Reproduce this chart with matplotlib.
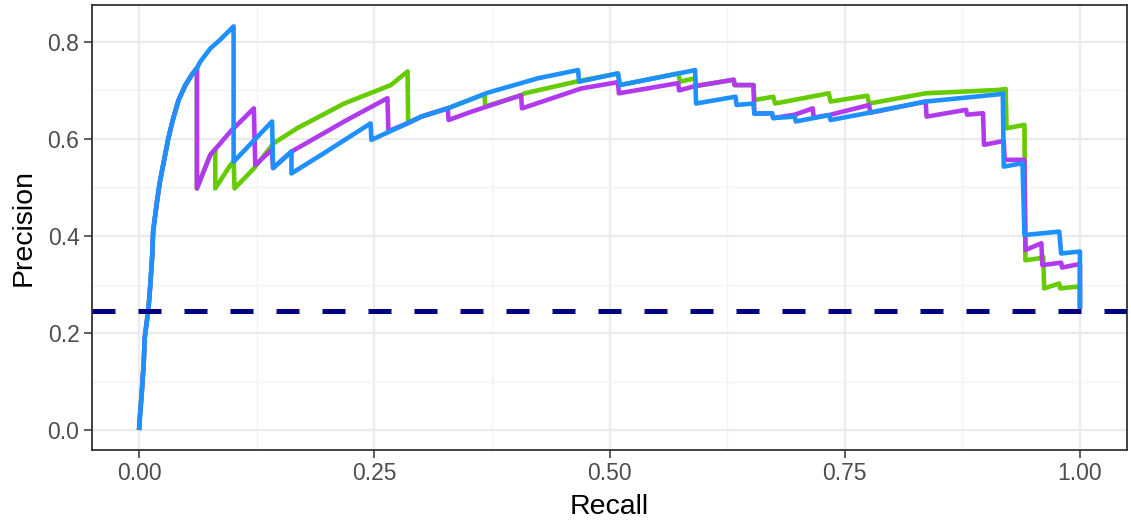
import matplotlib
matplotlib.use("Agg")
import matplotlib.pyplot as plt
from matplotlib.ticker import MultipleLocator

# shared steep climb at the start of all three curves
rise_recall = [0.0, 0.001, 0.003, 0.005, 0.006, 0.010, 0.012, 0.014, 0.015,
               0.019, 0.022, 0.026, 0.031, 0.036, 0.042, 0.049, 0.056, 0.0615]
rise_precision = [0.0, 0.03, 0.08, 0.14, 0.19, 0.25, 0.30, 0.36, 0.41,
                  0.47, 0.51, 0.55, 0.60, 0.64, 0.68, 0.71, 0.732, 0.746]

blue_recall = rise_recall + [
    0.065, 0.076, 0.086, 0.1005, 0.1005, 0.1414, 0.1425, 0.162, 0.162, 0.196,
    0.246, 0.247, 0.285, 0.300, 0.328, 0.371, 0.424, 0.4666, 0.4676, 0.509,
    0.511, 0.584, 0.591, 0.592, 0.634, 0.635, 0.653, 0.654, 0.6727, 0.674,
    0.697, 0.698, 0.733, 0.735, 0.776, 0.836, 0.914, 0.918, 0.919, 0.939,
    0.941, 0.978, 0.980, 1.0, 1.0]
blue_precision = rise_precision + [
    0.759, 0.787, 0.804, 0.832, 0.553, 0.636, 0.540, 0.574, 0.529, 0.570,
    0.632, 0.598, 0.632, 0.646, 0.663, 0.6955, 0.725, 0.742, 0.718, 0.735,
    0.711, 0.739, 0.742, 0.673, 0.687, 0.670, 0.673, 0.652, 0.653, 0.643,
    0.646, 0.636, 0.649, 0.639, 0.654, 0.677, 0.692, 0.694, 0.543, 0.550,
    0.402, 0.409, 0.364, 0.368, 0.251]

purple_recall = rise_recall + [
    0.0615, 0.0757, 0.097, 0.122, 0.1235, 0.141, 0.1425, 0.162, 0.1965, 0.218,
    0.264, 0.265, 0.285, 0.300, 0.328, 0.329, 0.353, 0.406, 0.407, 0.470,
    0.509, 0.510, 0.573, 0.574, 0.591, 0.632, 0.633, 0.653, 0.654, 0.6727,
    0.674, 0.697, 0.716, 0.717, 0.733, 0.776, 0.777, 0.836, 0.837, 0.879,
    0.880, 0.897, 0.898, 0.914, 0.919, 0.920, 0.941, 0.942, 0.959, 0.960,
    0.980, 0.981, 0.999, 1.0, 1.0]
purple_precision = rise_precision + [
    0.498, 0.567, 0.615, 0.663, 0.546, 0.578, 0.540, 0.574, 0.612, 0.636,
    0.684, 0.616, 0.632, 0.646, 0.663, 0.639, 0.656, 0.690, 0.663, 0.704,
    0.717, 0.694, 0.715, 0.700, 0.709, 0.722, 0.711, 0.711, 0.652, 0.653,
    0.643, 0.650, 0.663, 0.644, 0.649, 0.670, 0.654, 0.677, 0.646, 0.660,
    0.650, 0.653, 0.588, 0.594, 0.596, 0.557, 0.557, 0.371, 0.385, 0.340,
    0.345, 0.335, 0.342, 0.342, 0.250]

green_recall = rise_recall + [
    0.0615, 0.0757, 0.081, 0.081, 0.097, 0.1006, 0.1015, 0.122, 0.143, 0.168,
    0.218, 0.2676, 0.2854, 0.286, 0.300, 0.328, 0.367, 0.368, 0.406, 0.41,
    0.4666, 0.509, 0.511, 0.573, 0.575, 0.591, 0.592, 0.632, 0.633, 0.653,
    0.654, 0.674, 0.676, 0.733, 0.735, 0.774, 0.776, 0.836, 0.914, 0.921,
    0.922, 0.941, 0.942, 0.957, 0.961, 0.962, 0.978, 0.979, 0.999, 1.0, 1.0]
green_precision = rise_precision + [
    0.498, 0.567, 0.579, 0.498, 0.546, 0.553, 0.498, 0.539, 0.591, 0.622,
    0.673, 0.711, 0.739, 0.633, 0.646, 0.663, 0.692, 0.667, 0.690, 0.694,
    0.719, 0.735, 0.711, 0.735, 0.718, 0.725, 0.709, 0.722, 0.711, 0.711,
    0.680, 0.687, 0.673, 0.694, 0.677, 0.689, 0.673, 0.694, 0.701, 0.703,
    0.622, 0.629, 0.350, 0.354, 0.357, 0.292, 0.302, 0.292, 0.296, 0.296, 0.250]

baseline = 0.245
x_ticks = [0.0, 0.25, 0.5, 0.75, 1.0]
x_labels = ["0.00", "0.25", "0.50", "0.75", "1.00"]
y_ticks = [0.0, 0.2, 0.4, 0.6, 0.8]
y_labels = ["0.0", "0.2", "0.4", "0.6", "0.8"]

plt.rcParams["font.family"] = ["Liberation Sans", "DejaVu Sans"]

W, H = 1131, 527
fig = plt.figure(figsize=(W / 100, H / 100), dpi=100)
ax = fig.add_axes([92 / W, 77 / H, (1127 - 92) / W, (450 - 5) / H])

ax.set_xlim(-0.05, 1.05)
ax.set_ylim(-0.041, 0.876)

# ggplot theme_bw look
ax.xaxis.set_minor_locator(MultipleLocator(0.125))
ax.yaxis.set_minor_locator(MultipleLocator(0.1))
ax.grid(which="major", color="#EBEBEB", lw=1.6, zorder=0)
ax.grid(which="minor", color="#F3F3F3", lw=1.0, zorder=0)
ax.set_axisbelow(True)
ax.tick_params(which="minor", length=0)
ax.tick_params(which="major", length=6, width=1.1, color="#333333",
               labelcolor="#4D4D4D", labelsize=16.5, pad=3)
for s in ax.spines.values():
    s.set_color("#333333")
    s.set_linewidth(1.3)

ax.set_xticks(x_ticks, x_labels)
ax.set_yticks(y_ticks, y_labels)

line_kw = dict(lw=3.3, solid_joinstyle="round", solid_capstyle="butt")
ax.plot(green_recall, green_precision, color="#66CC00", zorder=3, **line_kw)
ax.plot(purple_recall, purple_precision, color="#B23AEE", zorder=4, **line_kw)
ax.plot(blue_recall, blue_precision, color="#1E90FF", zorder=5, **line_kw)

ax.axhline(baseline, color="#000080", lw=3.6, dashes=(4.6, 4.6), zorder=6)

ax.set_xlabel("Recall", fontsize=20.5, color="black", labelpad=6)
ax.set_ylabel("Precision", fontsize=20.5, color="black", labelpad=8)

fig.savefig("out.png", dpi=100)
